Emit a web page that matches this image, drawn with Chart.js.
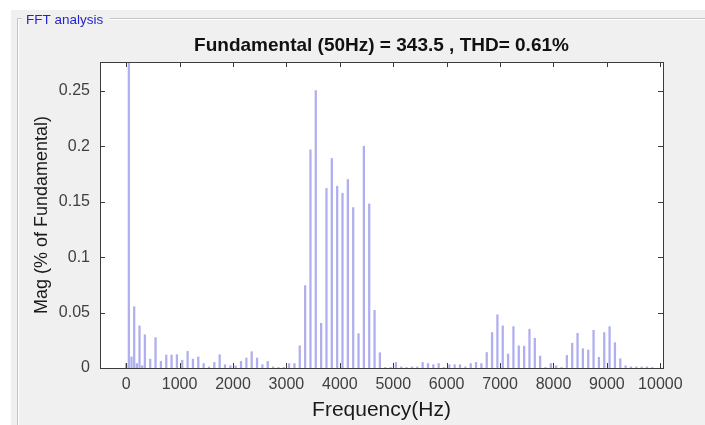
<!DOCTYPE html>
<html>
<head>
<meta charset="utf-8">
<script src="https://cdn.jsdelivr.net/npm/chart.js@4.4.0/dist/chart.umd.min.js"></script>
<style>
  html, body { margin: 0; padding: 0; background: #fff; }
  #wrap { width: 705px; height: 425px; }
</style>
</head>
<body>
<div id="wrap"><canvas id="fft" width="705" height="425"></canvas></div>
<script>
// harmonic frequencies (Hz) and magnitude (% of fundamental)
const freqHz = [0, 50, 100, 150, 200, 250, 300, 350, 450, 550, 650, 750, 850, 950,
  1050, 1150, 1250, 1350, 1450, 1550, 1650, 1750, 1850, 1950,
  2050, 2150, 2250, 2350, 2450, 2550, 2650, 2750, 2850, 2950,
  3050, 3150, 3250, 3350, 3450, 3550, 3650, 3750, 3850, 3950,
  4050, 4150, 4250, 4350, 4450, 4550, 4650, 4750, 4850, 4950,
  5050, 5150, 5250, 5350, 5450, 5550, 5650, 5750, 5850, 5950,
  6050, 6150, 6250, 6350, 6450, 6550, 6650, 6750, 6850, 6950,
  7050, 7150, 7250, 7350, 7450, 7550, 7650, 7750, 7850, 7950,
  8050, 8150, 8250, 8350, 8450, 8550, 8650, 8750, 8850, 8950,
  9050, 9150, 9250, 9350, 9450, 9550, 9650, 9750, 9850];
const magPct = [0.004, 100, 0.010, 0.0553, 0.004, 0.038, 0.002, 0.030, 0.008, 0.0274, 0.006, 0.0117, 0.0117, 0.012,
  0.007, 0.015, 0.008, 0.010, 0.004, 0.001, 0.005, 0.012, 0.003, 0.002,
  0.002, 0.006, 0.009, 0.0147, 0.009, 0.003, 0.006, 0.001, 0.0005, 0.0005,
  0.004, 0.004, 0.020, 0.0743, 0.1968, 0.2503, 0.0403, 0.162, 0.189, 0.164,
  0.1576, 0.170, 0.1447, 0.031, 0.200, 0.148, 0.052, 0.0138, 0.0005, 0.0005,
  0.005, 0.001, 0.0005, 0.001, 0.001, 0.005, 0.004, 0.003, 0.004, 0.0005,
  0.003, 0.003, 0.003, 0.001, 0.004, 0.005, 0.004, 0.014, 0.032, 0.048,
  0.038, 0.0126, 0.0373, 0.020, 0.0197, 0.035, 0.0268, 0.0108, 0.0005, 0.004,
  0.002, 0.0005, 0.0114, 0.0223, 0.0313, 0.0174, 0.0162, 0.034, 0.0096, 0.0319,
  0.0373, 0.0229, 0.0084, 0.002, 0.001, 0.001, 0.001, 0.001, 0.0005];

const xTicks = [0, 1000, 2000, 3000, 4000, 5000, 6000, 7000, 8000, 9000, 10000];
const xTickLabels = ['0', '1000', '2000', '3000', '4000', '5000', '6000', '7000', '8000', '9000', '10000'];
const yTicks = [0, 0.05, 0.1, 0.15, 0.2, 0.25];
const yTickLabels = ['0', '0.05', '0.1', '0.15', '0.2', '0.25'];

const titleText = 'Fundamental (50Hz) = 343.5 , THD= 0.61%';
const panelLabel = 'FFT analysis';
const fontFam = '"Liberation Sans", Arial, sans-serif';

// gray panel + group box behind the axes
const panelPlugin = {
  id: 'panel',
  beforeDraw(chart) {
    const ctx = chart.ctx;
    const a = chart.chartArea;
    ctx.save();
    ctx.fillStyle = '#ffffff';
    ctx.fillRect(0, 0, chart.width, chart.height);
    ctx.fillStyle = '#f0f0f0';
    ctx.fillRect(11, 10, chart.width - 11, chart.height - 10);
    // group box frame
    ctx.strokeStyle = '#c4c4c4';
    ctx.lineWidth = 1;
    ctx.beginPath();
    ctx.moveTo(17.5, 440);
    ctx.lineTo(17.5, 18.5);
    ctx.lineTo(22, 18.5);
    ctx.moveTo(110, 18.5);
    ctx.lineTo(chart.width + 5, 18.5);
    ctx.stroke();
    ctx.strokeStyle = '#ffffff';
    ctx.beginPath();
    ctx.moveTo(18.5, 440);
    ctx.lineTo(18.5, 19.5);
    ctx.lineTo(22, 19.5);
    ctx.moveTo(110, 19.5);
    ctx.lineTo(chart.width + 5, 19.5);
    ctx.stroke();
    ctx.fillStyle = '#2424d0';
    ctx.font = '13.5px ' + fontFam;
    ctx.textBaseline = 'middle';
    ctx.fillText(panelLabel, 26, 20);
    // white plot area
    ctx.fillStyle = '#ffffff';
    ctx.fillRect(a.left, a.top, a.right - a.left, a.bottom - a.top);
    ctx.restore();
  }
};

// MATLAB style box with inward ticks
const boxPlugin = {
  id: 'box',
  afterDatasetsDraw(chart) {
    const ctx = chart.ctx;
    const a = chart.chartArea;
    const xs = chart.scales.x;
    const ys = chart.scales.y;
    const len = 5;
    ctx.save();
    ctx.strokeStyle = '#3c3c3c';
    ctx.lineWidth = 1;
    ctx.strokeRect(Math.round(a.left) + 0.5, Math.round(a.top) + 0.5,
      Math.round(a.right - a.left), Math.round(a.bottom - a.top));
    ctx.beginPath();
    xTicks.forEach(v => {
      const px = Math.round(xs.getPixelForValue(v)) + 0.5;
      ctx.moveTo(px, a.bottom);
      ctx.lineTo(px, a.bottom - len);
      ctx.moveTo(px, a.top);
      ctx.lineTo(px, a.top + len);
    });
    yTicks.forEach(v => {
      const py = Math.round(ys.getPixelForValue(v)) + 0.5;
      ctx.moveTo(a.left, py);
      ctx.lineTo(a.left + len, py);
      ctx.moveTo(a.right, py);
      ctx.lineTo(a.right - len, py);
    });
    ctx.stroke();
    ctx.restore();
  }
};

const points = freqHz.map((f, i) => ({ x: f, y: magPct[i] }));

new Chart(document.getElementById('fft'), {
  type: 'bar',
  data: {
    datasets: [{
      data: points,
      backgroundColor: 'rgba(95, 95, 225, 0.5)',
      borderWidth: 0,
      barThickness: 1.6
    }]
  },
  options: {
    responsive: false,
    animation: false,
    devicePixelRatio: 1,
    layout: { padding: { left: 0, right: 42, top: 0, bottom: 0 } },
    plugins: {
      legend: { display: false },
      tooltip: { enabled: false },
      title: {
        display: true,
        fullSize: false,
        text: titleText,
        color: '#111',
        font: { family: fontFam, size: 19, weight: 'bold' },
        padding: { top: 34.5, bottom: 4.7 }
      }
    },
    scales: {
      x: {
        type: 'linear',
        offset: false,
        min: -490,
        max: 10050,
        afterBuildTicks: s => { s.ticks = xTicks.map(v => ({ value: v })); },
        afterFit: s => { s.height = 57; },
        grid: { display: false, drawTicks: false },
        border: { display: false },
        ticks: {
          padding: 7,
          color: '#404040',
          maxRotation: 0,
          autoSkip: false,
          font: { family: fontFam, size: 16 },
          callback: (v, i) => xTickLabels[i]
        },
        title: {
          display: true,
          text: 'Frequency(Hz)',
          color: '#1a1a1a',
          padding: { top: 0, bottom: 2.4 },
          font: { family: fontFam, size: 21 }
        }
      },
      y: {
        min: 0,
        max: 0.276,
        afterBuildTicks: s => { s.ticks = yTicks.map(v => ({ value: v })); },
        afterFit: s => { s.width = 100; },
        grid: { display: false, drawTicks: false },
        border: { display: false },
        ticks: {
          padding: 10,
          color: '#404040',
          autoSkip: false,
          font: { family: fontFam, size: 16 },
          callback: (v, i) => yTickLabels[i]
        },
        title: {
          display: true,
          text: 'Mag (% of Fundamental)',
          color: '#1a1a1a',
          padding: { top: 31, bottom: 0 },
          font: { family: fontFam, size: 18 }
        }
      }
    }
  },
  plugins: [panelPlugin, boxPlugin]
});
</script>
</body>
</html>
